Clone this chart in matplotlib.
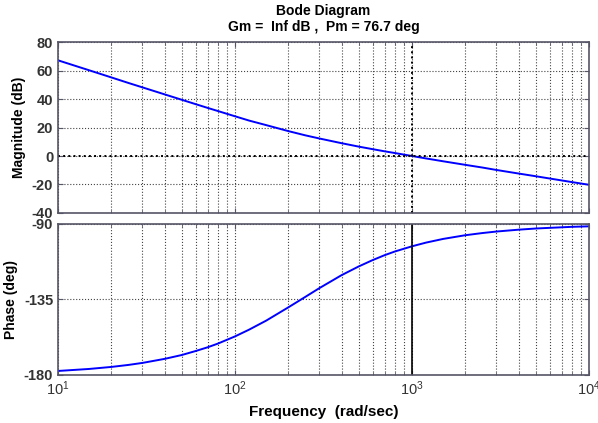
import numpy as np
import matplotlib
matplotlib.use("Agg")
import matplotlib.pyplot as plt
from matplotlib.ticker import LogLocator, NullFormatter

plt.rcParams["font.family"] = ["Liberation Sans", "DejaVu Sans"]
plt.rcParams["axes.unicode_minus"] = False

# values
freq = [10, 15, 20, 25, 30, 40, 50, 60, 70, 80, 100, 120, 150, 200, 250,
        300, 400, 500, 600, 700, 800, 1000, 1200, 1500, 2000, 2500, 3000,
        4000, 5000, 6000, 8000, 10000]
mag_db = [67.2, 60.2, 55.2, 51.3, 48.2, 43.3, 39.5, 36.4, 33.8, 31.6, 27.9,
          24.9, 21.7, 17.5, 14.5, 12.3, 9.0, 6.6, 4.8, 3.3, 2.1, 0.0, -1.7,
          -3.7, -6.2, -8.1, -9.8, -12.3, -14.2, -15.8, -18.3, -20.2]
phase_deg = [-177.6, -176.4, -175.2, -174.0, -172.8, -170.4, -168.1, -165.7,
             -163.5, -161.3, -157.0, -153.0, -147.6, -139.7, -133.4, -128.2,
             -120.5, -115.3, -111.5, -108.6, -106.4, -103.3, -101.1, -98.9,
             -96.7, -95.4, -94.5, -93.4, -92.7, -92.3, -91.7, -91.4]
mag_ticks = [-40, -20, 0, 20, 40, 60, 80]
phase_ticks = [-180, -135, -90]
w_cross = 1000

fig = plt.figure(figsize=(5.98, 4.23), dpi=100)
ax1 = fig.add_axes([0.097, 0.4965, 0.888, 0.404])
ax2 = fig.add_axes([0.097, 0.1135, 0.888, 0.357], sharex=ax1)

frame_c = "#555566"
lab_font = dict(fontsize=10, fontweight="bold")

for ax in (ax1, ax2):
    ax.set_xscale("log")
    ax.set_xlim(10, 1e4)
    ax.xaxis.set_major_locator(LogLocator(base=10))
    ax.xaxis.set_minor_locator(LogLocator(base=10, subs=np.arange(2, 10)))
    ax.xaxis.set_minor_formatter(NullFormatter())
    ax.grid(True, which="both", axis="x", color="#444444", ls=":", lw=0.8)
    ax.grid(True, which="major", axis="y", color="#444444", ls=":", lw=0.8)
    ax.tick_params(which="both", direction="in", top=True, right=True,
                   color=frame_c, labelsize=10.5, labelcolor="#333333")
    for s in ax.spines.values():
        s.set_color(frame_c)
        s.set_linewidth(1.2)

ax1.plot(freq, mag_db, color="blue", lw=1.4)
ax1.axhline(0, color="black", ls=":", lw=1.4)
ax1.axvline(w_cross, color="black", ls=":", lw=1.4)
ax1.set_ylim(-40, 80)
ax1.set_yticks(mag_ticks)
ax1.tick_params(labelbottom=False)
ax1.set_ylabel("Magnitude (dB)", **lab_font)
ax1.set_title("Bode Diagram\nGm =  Inf dB ,  Pm = 76.7 deg",
              fontsize=10, fontweight="bold", pad=8, linespacing=1.2)

ax2.plot(freq, phase_deg, color="blue", lw=1.4)
ax2.axvline(w_cross, color="black", lw=1.2)
ax2.set_ylim(-180, -90)
ax2.set_yticks(phase_ticks)
ax2.set_ylabel("Phase (deg)", **lab_font)
ax2.set_xlabel("Frequency  (rad/sec)", fontsize=11, fontweight="bold", labelpad=5)

for ax in (ax1, ax2):
    for lab in ax.get_yticklabels():
        lab.set_fontweight("bold")

fig.savefig("out.png", dpi=100)
